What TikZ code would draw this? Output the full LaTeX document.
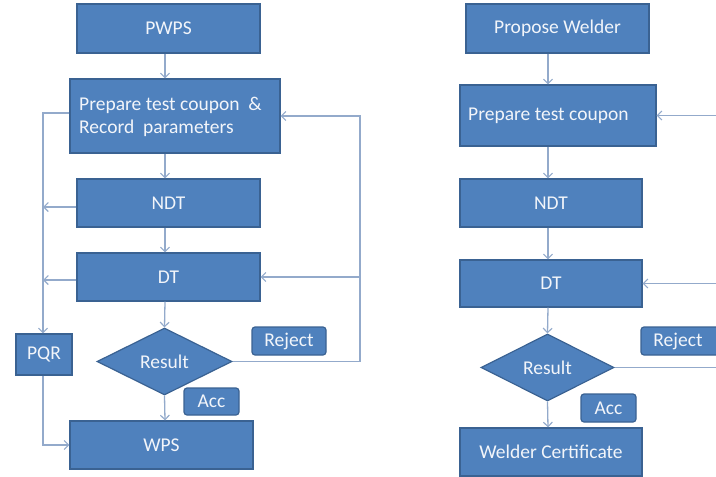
\documentclass[tikz,border=0pt]{standalone}
\usepackage{fontspec}
\setmainfont{Carlito}
\usetikzlibrary{shapes.geometric,arrows.meta}
\definecolor{boxfill}{HTML}{4F81BD}
\definecolor{boxline}{HTML}{3A6292}
\definecolor{flow}{HTML}{93AACB}
\definecolor{boxtext}{HTML}{F2F5FA}
\tikzset{
  stepbox/.style={rectangle, draw=boxline, line width=1.2pt, fill=boxfill,
    text=boxtext, inner sep=0pt, font=\fontsize{19.5}{23}\selectfont},
  tagbox/.style={stepbox, rounded corners=3pt},
  decide/.style={diamond, draw=boxline, line width=1.2pt, fill=boxfill,
    text=boxtext, inner sep=0pt, font=\fontsize{19.5}{23}\selectfont},
  flowline/.style={draw=flow, line width=1.3pt},
  arr/.style={flowline, -{Straight Barb[length=4.5pt,width=9pt,line width=1.1pt]}},
  label/.style={text=boxtext, inner sep=0pt, font=\fontsize{19.5}{23}\selectfont}
}
\begin{document}
\begin{tikzpicture}[x=1pt,y=-1pt]
\useasboundingbox (0,0) rectangle (716,477);
\begin{scope}
\clip (0,0) rectangle (716,477);
% ---------- procedure qualification ----------
\coordinate (axL) at (165,0);
\coordinate (busL) at (43,0);
\coordinate (loopL) at (360,0);
\node[stepbox, minimum width=183pt, minimum height=49pt] (pwps) at (168.5,28.5) {PWPS};
\node[stepbox, minimum width=210pt, minimum height=74pt] (prep) at (175,116) {};
\node[label, anchor=west, align=left] (preptxt) at (79,117)
  {Prepare test coupon\ \ \&\\Record\ \ parameters};
\node[stepbox, minimum width=183pt, minimum height=48pt] (ndt) at (168.5,203) {NDT};
\node[stepbox, minimum width=183pt, minimum height=48pt] (dt) at (168.5,277) {DT};
\node[decide, minimum width=135pt, minimum height=67pt] (res) at (164.5,361.5) {Result};
\node[stepbox, minimum width=56pt, minimum height=41pt] (pqr) at (44,354.5) {PQR};
\node[tagbox, minimum width=74pt, minimum height=28pt] (rej) at (289,341) {Reject};
\node[tagbox, minimum width=55pt, minimum height=27pt] (acc) at (211.5,401.5) {Acc};
\node[stepbox, minimum width=183pt, minimum height=48pt] (wps) at (161.5,445) {WPS};

\draw[arr] (axL |- pwps.south) -- (axL |- prep.north);
\draw[arr] (axL |- prep.south) -- (axL |- ndt.north);
\draw[arr] (axL |- ndt.south) -- (axL |- dt.north);
\draw[arr] (axL |- dt.south) -- (res.north);
\draw[arr] (res.south) -- (axL |- wps.north);

\path ([yshift=3pt]prep.west) coordinate (prepL);
\path ([yshift=-4pt]ndt.west) coordinate (ndtL);
\path ([yshift=-3pt]dt.west) coordinate (dtL);
\draw[arr] (prepL) -- (busL |- prepL) -- (busL |- pqr.north);
\draw[arr] (ndtL) -- (busL |- ndtL);
\draw[arr] (dtL) -- (busL |- dtL);
\draw[arr] (busL |- pqr.south) |- (wps.west);

\draw[arr] (res.east) -- (loopL |- res.east) -- (loopL |- prep.east) -- (prep.east);
\draw[arr] (loopL |- dt.east) -- (dt.east);

% ---------- welder qualification ----------
\coordinate (axR) at (548,0);
\coordinate (edgeR) at (722,0);
\node[stepbox, minimum width=183pt, minimum height=49pt] (pw) at (557.5,28.5) {Propose Welder};
\node[stepbox, minimum width=196pt, minimum height=61pt] (prep2) at (558,115.5) {};
\node[label, anchor=west] (prep2txt) at (468,116) {Prepare test coupon};
\node[stepbox, minimum width=182pt, minimum height=48pt] (ndt2) at (551,203) {NDT};
\node[stepbox, minimum width=182pt, minimum height=47pt] (dt2) at (551,283.5) {DT};
\node[decide, minimum width=133pt, minimum height=67pt] (res2) at (547.5,367.5) {Result};
\node[tagbox, minimum width=81pt, minimum height=28pt] (rej2) at (681.5,341) {};
\node[label] (rej2txt) at (678,341) {Reject};
\node[tagbox, minimum width=55pt, minimum height=28pt] (acc2) at (608.5,408) {Acc};
\node[stepbox, minimum width=182pt, minimum height=48pt] (cert) at (551,452) {Welder Certificate};

\draw[arr] (axR |- pw.south) -- (axR |- prep2.north);
\draw[arr] (axR |- prep2.south) -- (axR |- ndt2.north);
\draw[arr] (axR |- ndt2.south) -- (axR |- dt2.north);
\draw[arr] (axR |- dt2.south) -- (res2.north);
\draw[arr] (res2.south) -- (axR |- cert.north);

\draw[flowline] (res2.east) -- (edgeR |- res2.east);
\draw[arr] (edgeR |- prep2.east) -- (prep2.east);
\draw[arr] (edgeR |- dt2.east) -- (dt2.east);
\end{scope}
\end{tikzpicture}
\end{document}
